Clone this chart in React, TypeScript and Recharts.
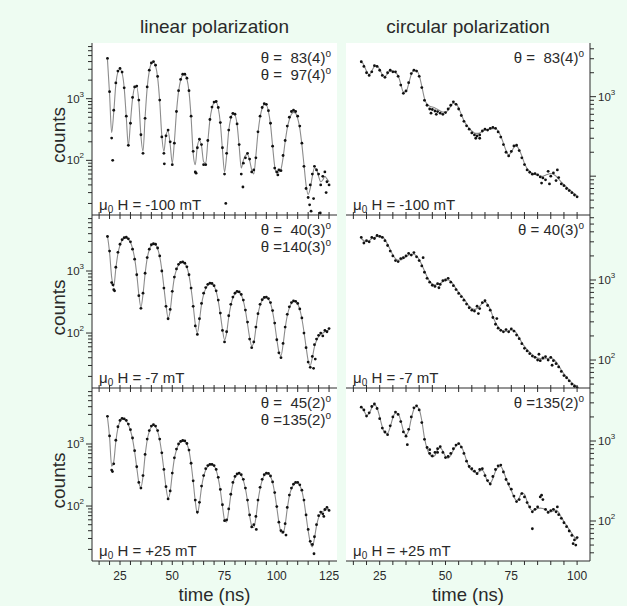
import { ComposedChart, Line, Scatter, XAxis, YAxis, CartesianGrid } from 'recharts'

const INK = '#2a2a2a'
const BG = '#eefcf2'
const FONT = '"Liberation Sans", Arial, Helvetica, sans-serif'

// time bins (ns)
const linTime = [
  19, 20, 21, 22, 23, 24, 25, 26, 27, 28,
  29, 30, 31, 32, 33, 34, 35, 36, 37, 38,
  39, 40, 41, 42, 43, 44, 45, 46, 47, 48,
  49, 50, 51, 52, 53, 54, 55, 56, 57, 58,
  59, 60, 61, 62, 63, 64, 65, 66, 67, 68,
  69, 70, 71, 72, 73, 74, 75, 76, 77, 78,
  79, 80, 81, 82, 83, 84, 85, 86, 87, 88,
  89, 90, 91, 92, 93, 94, 95, 96, 97, 98,
  99, 100, 101, 102, 103, 104, 105, 106, 107, 108,
  109, 110, 111, 112, 113, 114, 115, 116, 117, 118,
  119, 120, 121, 122, 123, 124, 125,
]
const circTime = [
  18, 19, 20, 21, 22, 23, 24, 25, 26, 27,
  28, 29, 30, 31, 32, 33, 34, 35, 36, 37,
  38, 39, 40, 41, 42, 43, 44, 45, 46, 47,
  48, 49, 50, 51, 52, 53, 54, 55, 56, 57,
  58, 59, 60, 61, 62, 63, 64, 65, 66, 67,
  68, 69, 70, 71, 72, 73, 74, 75, 76, 77,
  78, 79, 80, 81, 82, 83, 84, 85, 86, 87,
  88, 89, 90, 91, 92, 93, 94, 95, 96, 97,
  98, 99, 100,
]

const linTicksX = [15, 20, 25, 30, 35, 40, 45, 50, 55, 60, 65, 70, 75, 80, 85, 90, 95, 100, 105, 110, 115, 120, 125]
const circTicksX = [15, 20, 25, 30, 35, 40, 45, 50, 55, 60, 65, 70, 75, 80, 85, 90, 95, 100]

const linTicksY = [20, 30, 40, 50, 60, 70, 80, 90, 100, 200, 300, 400, 500, 600, 700, 800, 900, 1000, 2000, 3000, 4000, 5000, 6000, 7000]
const circTicksY1 = [40, 50, 60, 70, 80, 90, 100, 200, 300, 400, 500, 600, 700, 800, 900, 1000, 2000, 3000, 4000]
const circTicksY2 = [50, 60, 70, 80, 90, 100, 200, 300, 400, 500, 600, 700, 800, 900, 1000, 2000, 3000, 4000, 5000, 6000]

// linear polarization, -100 mT
const lin1Fit = [
  4300, 1200, 280, 600, 1700, 2700, 3000, 2600, 1500, 500,
  170, 420, 1000, 1500, 1550, 900, 250, 140, 500, 1500,
  2800, 3700, 3900, 3400, 2200, 900, 250, 140, 260, 300,
  180, 90, 200, 600, 1300, 2000, 2400, 2450, 2100, 1300,
  500, 130, 85, 170, 210, 170, 95, 90, 200, 450,
  700, 860, 880, 700, 400, 150, 65, 120, 300, 480,
  560, 540, 380, 170, 75, 100, 120, 125, 100, 70,
  60, 120, 280, 500, 700, 800, 790, 620, 380, 170,
  80, 62, 65, 72, 110, 200, 330, 460, 560, 600,
  580, 480, 330, 180, 85, 40, 28, 35, 55, 75,
  72, 55, 45, 48, 55, 50, 45,
]
const lin1Obs = [
  4500, 1300, 230, 650, 1800, 2800, 3100, 2700, 1500, 520,
  175, 400, 1050, 1550, 1600, 950, 260, 130, 480, 1550,
  2900, 3800, 4000, 3500, 2300, 950, 240, 130, 250, 310,
  200, 85, 190, 620, 1350, 2050, 2500, 2500, 2150, 1350,
  520, 140, 65, 160, 220, 180, 85, 85, 210, 460,
  730, 880, 900, 720, 410, 160, 60, 130, 310, 500,
  580, 560, 390, 180, 60, 90, 110, 130, 105, 65,
  70, 110, 290, 520, 720, 830, 810, 640, 400, 170,
  75, 65, 70, 68, 120, 210, 360, 500, 620, 650,
  620, 520, 360, 190, 80, 35, 25, 40, 60, 80,
  70, 60, 40, 55, 65, 45, 40,
]
const lin1Extra = [[21.5, 100], [46.2, 88], [61.4, 62], [75.6, 20], [83.8, 37], [100.5, 58], [115.7, 19], [116.4, 15], [117.6, 24], [120.8, 14], [123.6, 30]]

// linear polarization, -7 mT
const lin2Fit = [
  3700, 2000, 800, 560, 1100, 1900, 2600, 3100, 3350, 3400,
  3250, 2900, 2300, 1600, 900, 420, 260, 420, 900, 1600,
  2200, 2600, 2700, 2650, 2300, 1700, 1050, 550, 280, 175,
  230, 450, 780, 1050, 1250, 1350, 1370, 1320, 1150, 850,
  520, 280, 140, 100, 160, 290, 420, 520, 590, 620,
  615, 570, 470, 330, 200, 115, 78, 100, 180, 280,
  370, 430, 455, 450, 410, 330, 230, 140, 85, 62,
  70, 120, 200, 280, 335, 365, 370, 350, 300, 220,
  140, 80, 50, 43, 65, 120, 190, 255, 300, 322,
  320, 295, 240, 170, 105, 60, 36, 30, 40, 60,
  75, 88, 95, 100, 105, 110, 112,
]
const lin2Obs = [
  3600, 2100, 650, 500, 1150, 2000, 2700, 3200, 3450, 3500,
  3300, 2950, 2250, 1550, 870, 400, 250, 440, 920, 1650,
  2250, 2650, 2750, 2700, 2350, 1750, 1000, 530, 270, 170,
  240, 470, 800, 1080, 1280, 1380, 1400, 1340, 1170, 870,
  530, 270, 130, 95, 170, 300, 440, 540, 610, 640,
  630, 580, 480, 340, 210, 110, 72, 105, 190, 290,
  380, 440, 470, 460, 420, 340, 235, 150, 80, 58,
  72, 125, 205, 290, 345, 375, 380, 360, 310, 230,
  145, 78, 48, 40, 68, 125, 200, 265, 310, 330,
  325, 300, 245, 175, 100, 58, 34, 28, 42, 65,
  80, 92, 100, 90, 110, 105, 118,
]
const lin2Extra = [[21.6, 600], [22.4, 480], [117.6, 27], [118.4, 38]]

// linear polarization, +25 mT
const lin3Fit = [
  2700, 1300, 440, 520, 1100, 1800, 2300, 2500, 2500, 2350,
  2050, 1650, 1200, 750, 420, 240, 200, 300, 650, 1150,
  1600, 1900, 2000, 1900, 1600, 1150, 700, 380, 200, 135,
  170, 330, 580, 800, 970, 1070, 1110, 1100, 1000, 780,
  480, 250, 120, 75, 110, 200, 300, 380, 430, 455,
  460, 440, 380, 280, 180, 100, 60, 55, 85, 150,
  230, 290, 320, 330, 310, 260, 190, 120, 70, 48,
  45, 65, 120, 190, 260, 310, 330, 330, 300, 240,
  160, 95, 55, 38, 36, 50, 90, 145, 190, 220,
  235, 235, 215, 175, 120, 70, 40, 26, 22, 30,
  48, 65, 75, 82, 85, 88, 90,
]
const lin3Obs = [
  2800, 1350, 380, 480, 1150, 1900, 2400, 2600, 2550, 2400,
  2100, 1700, 1250, 780, 430, 240, 195, 310, 680, 1200,
  1650, 1950, 2050, 1950, 1650, 1200, 720, 390, 205, 130,
  175, 340, 600, 830, 1000, 1100, 1140, 1120, 1020, 800,
  490, 255, 125, 80, 115, 210, 310, 400, 450, 470,
  470, 450, 390, 290, 185, 105, 58, 60, 90, 155,
  240, 300, 330, 340, 320, 270, 195, 125, 72, 46,
  50, 68, 125, 200, 270, 320, 340, 335, 305, 245,
  165, 98, 55, 40, 38, 52, 95, 150, 195, 225,
  240, 240, 220, 180, 125, 72, 42, 27, 24, 32,
  50, 70, 80, 75, 88, 95, 85,
]
const lin3Extra = [[21.4, 360], [90.2, 42], [104.4, 34], [117.8, 17], [122.5, 68]]

// circular polarization, -100 mT
const circ1Fit = [
  2800, 2500, 2100, 1900, 2100, 2400, 2450, 2200, 1900, 1800,
  1950, 2100, 2100, 2000, 1850, 1450, 1150, 1150, 1450, 1900,
  2150, 2150, 1850, 1350, 950, 800, 760, 740, 720, 690,
  660, 640, 640, 680, 760, 830, 820, 720, 600, 500,
  440, 400, 370, 350, 345, 350, 365, 380, 385, 390,
  395, 395, 370, 320, 260, 210, 185, 200, 230, 240,
  215, 180, 145, 125, 115, 108, 105, 103, 100, 100,
  103, 106, 108, 106, 100, 92, 84, 78, 73, 68,
  64, 60, 57,
]
const circ1Obs = [
  2750, 2400, 2000, 1850, 2050, 2450, 2400, 2150, 1850, 1750,
  2000, 2150, 2050, 2050, 1800, 1400, 1100, 1180, 1500, 1950,
  2150, 2100, 1800, 1300, 900, 780, 700, 690, 660, 650,
  620, 600, 630, 700, 780, 860, 800, 700, 580, 490,
  430, 390, 350, 330, 320, 330, 370, 390, 380, 400,
  410, 400, 360, 310, 250, 200, 180, 205, 240, 245,
  210, 170, 140, 120, 112, 106, 108, 104, 98, 95,
  90, 115, 100, 110, 88, 96, 80, 76, 70, 66,
  62, 58, 55,
]
const circ1Extra = [[44.5, 620], [46.5, 600], [61.5, 300], [63, 300], [86.5, 82], [89.5, 80], [92.5, 120]]

// circular polarization, -7 mT
const circ2Fit = [
  3300, 3100, 3000, 3100, 3300, 3400, 3500, 3550, 3500, 3200,
  2800, 2400, 2050, 1850, 1780, 1780, 1850, 1950, 2050, 2100,
  2100, 2000, 1800, 1550, 1300, 1100, 960, 890, 870, 880,
  910, 950, 985, 1000, 970, 880, 780, 700, 640, 580,
  520, 470, 440, 430, 440, 470, 510, 530, 500, 430,
  350, 295, 260, 240, 230, 228, 232, 238, 235, 215,
  190, 165, 148, 135, 125, 117, 110, 106, 104, 103,
  104, 105, 105, 102, 95, 85, 75, 67, 61, 56,
  52, 49, 47,
]
const circ2Obs = [
  3400, 2900, 3100, 3000, 3400, 3300, 3600, 3500, 3400, 3100,
  2700, 2300, 2000, 1750, 1700, 1850, 1900, 2000, 2150, 2050,
  2200, 1950, 1750, 1500, 1250, 1050, 940, 860, 830, 900,
  880, 980, 1000, 1050, 940, 850, 760, 680, 620, 560,
  500, 450, 420, 410, 470, 440, 520, 550, 480, 420,
  340, 280, 250, 235, 225, 240, 225, 245, 230, 205,
  185, 160, 140, 130, 120, 112, 108, 100, 98, 106,
  110, 100, 108, 98, 90, 82, 72, 64, 60, 55,
  50, 47, 45,
]
const circ2Extra = [[41.5, 1900], [47.5, 800], [62.5, 380], [69.5, 330], [85.5, 118], [90.5, 86]]

// circular polarization, +25 mT
const circ3Fit = [
  2700, 2400, 2100, 2200, 2600, 2850, 2600, 2000, 1500, 1250,
  1250, 1500, 1950, 2250, 2200, 1800, 1350, 1200, 1350, 1900,
  2500, 2700, 2500, 1800, 1100, 800, 680, 630, 660, 780,
  820, 750, 640, 610, 660, 770, 870, 910, 860, 720,
  570, 470, 430, 410, 400, 420, 430, 380, 310, 300,
  340, 420, 470, 480, 420, 340, 280, 240, 200, 180,
  195, 225, 215, 175, 145, 135, 138, 143, 145, 143,
  137, 132, 130, 133, 137, 128, 112, 98, 88, 78,
  70, 63, 58,
]
const circ3Obs = [
  2650, 2450, 2050, 2250, 2700, 2900, 2550, 1900, 1450, 1300,
  1200, 1550, 2000, 2300, 2150, 1750, 1300, 1150, 1400, 2000,
  2600, 2750, 2450, 1700, 1050, 830, 700, 650, 720, 800,
  850, 720, 620, 640, 700, 800, 890, 930, 840, 700,
  560, 480, 450, 420, 390, 440, 450, 370, 320, 290,
  360, 440, 490, 500, 410, 330, 290, 250, 205, 175,
  185, 220, 200, 170, 150, 130, 140, 150, 200, 185,
  140, 128, 135, 140, 130, 120, 108, 95, 85, 75,
  66, 58, 62,
]
const circ3Extra = [[35.5, 900], [44, 780], [47, 720], [83, 80], [86.5, 210], [92.5, 150], [98.5, 52], [99.5, 50]]

const ROW_TOP = [43, 215, 388]
const ROW_H = [172, 173, 173]
const fields = ['-100 mT', '-7 mT', '+25 mT']
const linTheta = [['θ =  83(4)', 'θ =  97(4)'], ['θ =  40(3)', 'θ =140(3)'], ['θ =  45(2)', 'θ =135(2)']]
const circTheta = ['θ =  83(4)', 'θ = 40(3)', 'θ =135(2)']

type PanelCfg = {
  id: string
  side: 'left' | 'right'
  left: number
  width: number
  row: number
  xDomain: [number, number]
  xTicks: number[]
  yDomain: [number, number]
  yTicks: number[]
  yLabels: number[]
  times: number[]
  fit: number[]
  obs: number[]
  extra: number[][]
}

const LIN_X: [number, number] = [11.6, 128.8]
const CIRC_X: [number, number] = [12.2, 104.9]

const panels: PanelCfg[] = [
  { id: 'l1', side: 'left', left: 92, width: 245, row: 0, xDomain: LIN_X, xTicks: linTicksX, yDomain: [13, 8000], yTicks: linTicksY, yLabels: [100, 1000], times: linTime, fit: lin1Fit, obs: lin1Obs, extra: lin1Extra },
  { id: 'l2', side: 'left', left: 92, width: 245, row: 1, xDomain: LIN_X, xTicks: linTicksX, yDomain: [13, 8000], yTicks: linTicksY, yLabels: [100, 1000], times: linTime, fit: lin2Fit, obs: lin2Obs, extra: lin2Extra },
  { id: 'l3', side: 'left', left: 92, width: 245, row: 2, xDomain: LIN_X, xTicks: linTicksX, yDomain: [13, 8000], yTicks: linTicksY, yLabels: [100, 1000], times: linTime, fit: lin3Fit, obs: lin3Obs, extra: lin3Extra },
  { id: 'c1', side: 'right', left: 346, width: 244, row: 0, xDomain: CIRC_X, xTicks: circTicksX, yDomain: [32.5, 4730], yTicks: circTicksY1, yLabels: [1000], times: circTime, fit: circ1Fit, obs: circ1Obs, extra: circ1Extra },
  { id: 'c2', side: 'right', left: 346, width: 244, row: 1, xDomain: CIRC_X, xTicks: circTicksX, yDomain: [44.7, 6490], yTicks: circTicksY2, yLabels: [100, 1000], times: circTime, fit: circ2Fit, obs: circ2Obs, extra: circ2Extra },
  { id: 'c3', side: 'right', left: 346, width: 244, row: 2, xDomain: CIRC_X, xTicks: circTicksX, yDomain: [31.6, 4600], yTicks: circTicksY1, yLabels: [100, 1000], times: circTime, fit: circ3Fit, obs: circ3Obs, extra: circ3Extra },
]

const AXIS_W = 46
const PAD = 2

function Panel(p: PanelCfg) {
  const bottom = p.row === 2
  const xh = bottom ? 34 : 6
  const h = ROW_H[p.row]
  const rows = p.times.map((t, i) => ({ t, fit: p.fit[i] }))
  const pts = p.times.map((t, i) => ({ t, v: p.obs[i] })).concat(p.extra.map(([t, v]) => ({ t, v })))
  const W = p.width + AXIS_W + PAD
  const H = h + PAD + xh
  const svgLeft = p.side === 'left' ? p.left - AXIS_W : p.left - PAD

  const xTick = (props: any) => {
    const { x, y, payload } = props
    const v = payload.value
    return (
      <g>
        <line x1={x} x2={x} y1={bottom ? y : y - 3} y2={y + 4} stroke={INK} />
        {bottom && v % 25 === 0 && (
          <text x={x} y={y + 19} textAnchor="middle" fontSize={12} fill={INK} fontFamily={FONT}>{v}</text>
        )}
      </g>
    )
  }

  const yTick = (props: any) => {
    const { x, y, payload } = props
    const v = payload.value
    const major = v === 100 || v === 1000
    const len = major ? 6 : 4
    const dir = p.side === 'left' ? -1 : 1
    return (
      <g>
        <line x1={x} x2={x + dir * len} y1={y} y2={y} stroke={INK} />
        {p.yLabels.includes(v) && (
          <text x={x + dir * (len + 2)} y={y + 4} textAnchor={p.side === 'left' ? 'end' : 'start'} fontSize={11.5} fill={INK} fontFamily={FONT}>
            10<tspan dy={-6} fontSize={8}>{v === 1000 ? '3' : '2'}</tspan>
          </text>
        )}
      </g>
    )
  }

  return (
    <div style={{ position: 'absolute', left: svgLeft, top: ROW_TOP[p.row] - PAD }}>
      <ComposedChart
        width={W}
        height={H}
        data={rows}
        margin={{ top: PAD, right: p.side === 'left' ? PAD : 0, bottom: 0, left: p.side === 'left' ? 0 : PAD }}
      >
        <CartesianGrid horizontal={false} vertical={false} fill="#ffffff" />
        <XAxis
          type="number" dataKey="t" domain={p.xDomain} ticks={p.xTicks} interval={0} allowDataOverflow
          height={xh} tickSize={0} tickMargin={0} tickLine={false} stroke={INK} tick={xTick}
        />
        <XAxis xAxisId="top" orientation="top" type="number" domain={[0, 1]} height={0} tick={false} tickLine={false} stroke={INK} />
        <YAxis
          orientation={p.side} scale="log" type="number" domain={p.yDomain} ticks={p.yTicks} interval={0} allowDataOverflow
          width={AXIS_W} tickSize={0} tickMargin={0} tickLine={false} stroke={INK} tick={yTick}
        />
        <YAxis yAxisId="frame" orientation={p.side === 'left' ? 'right' : 'left'} type="number" domain={[0, 1]} width={0} tick={false} tickLine={false} stroke={INK} />
        <Line
          type="monotone" dataKey="fit" stroke="#8c8c8c" strokeWidth={1.1}
          dot={false} activeDot={false} isAnimationActive={false}
        />
        <Scatter
          data={pts} dataKey="v" isAnimationActive={false}
          shape={(s: any) => <circle cx={s.cx} cy={s.cy} r={1.4} fill="#111" />}
        />
      </ComposedChart>
    </div>
  )
}

export default function App() {
  return (
    <div style={{ position: 'absolute', left: 0, top: 0, width: 627, height: 606, background: BG, overflow: 'hidden' }}>
      {[...panels].reverse().map((p) => <Panel key={p.id} {...p} />)}
      <svg width={627} height={606} style={{ position: 'absolute', left: 0, top: 0, pointerEvents: 'none' }} fontFamily={FONT} fill={INK}>
        <text x={214.5} y={33} fontSize={19} textAnchor="middle">linear polarization</text>
        <text x={468} y={33} fontSize={19} textAnchor="middle">circular polarization</text>
        {ROW_TOP.map((top, i) => {
          const cy = top + ROW_H[i] / 2 + 6
          return (
            <text key={'c' + i} x={58} y={cy} fontSize={19} textAnchor="middle" dominantBaseline="central" transform={`rotate(-90 58 ${cy})`}>counts</text>
          )
        })}
        <text x={214.5} y={601} fontSize={18.5} textAnchor="middle">time (ns)</text>
        <text x={468} y={601} fontSize={18.5} textAnchor="middle">time (ns)</text>
        {ROW_TOP.map((top, i) => (
          <g key={'a' + i}>
            {linTheta[i].map((s, j) => (
              <text key={j} x={331} y={top + 20 + j * 17} fontSize={15} textAnchor="end" style={{ whiteSpace: 'pre' }}>
                {s}<tspan fontSize={10} dy={-6}>o</tspan>
              </text>
            ))}
            <text x={584} y={top + 20} fontSize={15} textAnchor="end" style={{ whiteSpace: 'pre' }}>
              {circTheta[i]}<tspan fontSize={10} dy={-6}>o</tspan>
            </text>
            {[99, 353].map((x) => (
              <text key={x} x={x} y={top + ROW_H[i] - 5} fontSize={15}>
                μ<tspan fontSize={10} dy={3}>0</tspan><tspan dy={-3}>{' H = ' + fields[i]}</tspan>
              </text>
            ))}
          </g>
        ))}
      </svg>
    </div>
  )
}
